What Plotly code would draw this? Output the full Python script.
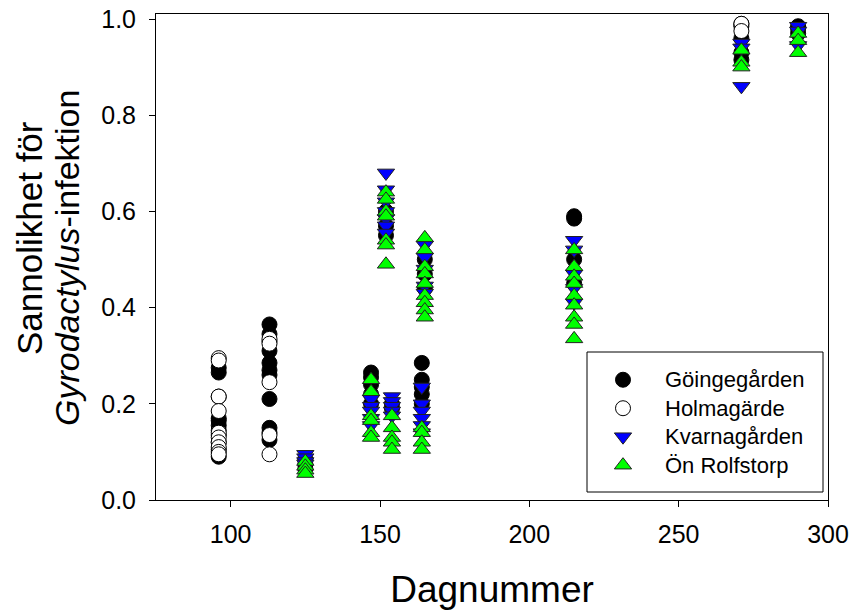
import plotly.graph_objects as go

# Göingegården (black circles)
goinge_day = [96]*11 + [113]*11 + [125]*3 + [147]*5 + [152]*3 + [154]*2 + [165]*3 + [164]*5 + [215]*4 + [271]*5 + [290]*3
goinge_p = [0.275, 0.265, 0.215, 0.17, 0.165, 0.155, 0.145, 0.135, 0.12, 0.105, 0.09,
            0.365, 0.345, 0.33, 0.31, 0.285, 0.27, 0.26, 0.21, 0.15, 0.14, 0.125,
            0.085, 0.075, 0.065,
            0.265, 0.255, 0.24, 0.22, 0.2,
            0.6, 0.57, 0.55,
            0.2, 0.19,
            0.5, 0.47, 0.44,
            0.285, 0.25, 0.235, 0.22, 0.2,
            0.59, 0.585, 0.5, 0.45,
            0.99, 0.985, 0.96, 0.93, 0.915,
            0.985, 0.98, 0.97]

# Holmagärde (white circles)
holma_day = [96]*10 + [113]*5 + [271]*2
holma_p = [0.295, 0.29, 0.215, 0.185, 0.14, 0.13, 0.12, 0.11, 0.1, 0.095,
           0.335, 0.325, 0.245, 0.135, 0.095,
           0.99, 0.975]

# Kvarnagården (blue down-triangles)
kvarna_day = [125]*4 + [147]*5 + [152]*7 + [154]*5 + [165]*5 + [164]*6 + [215]*5 + [271]*3 + [290]*3
kvarna_p = [0.095, 0.088, 0.08, 0.075,
            0.21, 0.195, 0.185, 0.17, 0.155,
            0.68, 0.645, 0.62, 0.6, 0.585, 0.57, 0.555,
            0.215, 0.205, 0.195, 0.185, 0.175,
            0.53, 0.505, 0.48, 0.445, 0.43,
            0.235, 0.2, 0.185, 0.17, 0.155, 0.14,
            0.54, 0.52, 0.47, 0.44, 0.41,
            0.95, 0.94, 0.86,
            0.985, 0.975, 0.945]

# Ön Rolfstorp (green up-triangles)
rolf_day = [125]*4 + [147]*6 + [152]*7 + [154]*5 + [165]*9 + [164]*4 + [215]*9 + [271]*3 + [290]*3
rolf_p = [0.08, 0.07, 0.062, 0.055,
          0.25, 0.225, 0.175, 0.165, 0.14, 0.13,
          0.64, 0.625, 0.6, 0.59, 0.54, 0.53, 0.49,
          0.175, 0.15, 0.13, 0.12, 0.105,
          0.545, 0.52, 0.485, 0.47, 0.45, 0.425, 0.41, 0.395, 0.38,
          0.15, 0.14, 0.12, 0.105,
          0.52, 0.485, 0.465, 0.45, 0.425, 0.405, 0.38, 0.365, 0.335,
          0.935, 0.91, 0.9,
          0.97, 0.955, 0.93]

series_names = ["Göingegården", "Holmagärde", "Kvarnagården", "Ön Rolfstorp"]
x_ticks = [100, 150, 200, 250, 300]
y_ticks = [0.0, 0.2, 0.4, 0.6, 0.8, 1.0]
y_tick_labels = ["0.0", "0.2", "0.4", "0.6", "0.8", "1.0"]
y_title_lines = ["Sannolikhet för", "<i>Gyrodactylus</i>-infektion"]
x_title = "Dagnummer"

FONT = "Arial, Liberation Sans, sans-serif"
W, H = 854, 612
L, R, T, B = 156, 26, 14, 112
PW, PH = W - L - R, H - T - B


def px(xp):
    return (xp - L) / PW


def py(yp):
    return (H - B - yp) / PH


def leg(name):
    return '<span style="font-size:22px">' + name + '</span>'


fig = go.Figure()
fig.add_trace(go.Scatter(x=goinge_day, y=goinge_p, mode="markers", name=leg(series_names[0]),
                         marker=dict(symbol="circle", size=15, color="black",
                                     line=dict(color="black", width=1))))
fig.add_trace(go.Scatter(x=holma_day, y=holma_p, mode="markers", name=leg(series_names[1]),
                         marker=dict(symbol="circle", size=15, color="white",
                                     line=dict(color="black", width=1))))
fig.add_trace(go.Scatter(x=kvarna_day, y=kvarna_p, mode="markers", name=leg(series_names[2]),
                         marker=dict(symbol="triangle-down", size=15, color="#0000ff",
                                     line=dict(color="#222222", width=1))))
fig.add_trace(go.Scatter(x=rolf_day, y=rolf_p, mode="markers", name=leg(series_names[3]),
                         marker=dict(symbol="triangle-up", size=15, color="#00ff00",
                                     line=dict(color="#222222", width=1))))

# legend frame
fig.add_shape(type="rect", xref="paper", yref="paper",
              x0=px(587), x1=px(823), y0=py(492), y1=py(352),
              line=dict(color="black", width=1), fillcolor="white", layer="above")

# y-axis title, two lines
fig.add_annotation(xref="paper", yref="paper", x=px(29), y=py(238),
                   text=y_title_lines[0], textangle=-90, showarrow=False,
                   xanchor="center", yanchor="middle", font=dict(size=35))
fig.add_annotation(xref="paper", yref="paper", x=px(67), y=py(258),
                   text=y_title_lines[1], textangle=-90, showarrow=False,
                   xanchor="center", yanchor="middle", font=dict(size=34))

fig.update_layout(
    width=W, height=H,
    margin=dict(l=L, r=R, t=T, b=B),
    plot_bgcolor="white", paper_bgcolor="white",
    font=dict(family=FONT, color="black", size=25),
    showlegend=True,
    legend=dict(x=px(588), y=py(422.5), xanchor="left", yanchor="middle",
                borderwidth=0, bgcolor="rgba(0,0,0,0)",
                font=dict(size=19.6, family=FONT, color="black"),
                itemwidth=74, indentation=-7, tracegroupgap=0),
    xaxis=dict(range=[75, 300], tickvals=x_ticks, ticks="outside", ticklen=6,
               tickwidth=1, tickcolor="black", showline=True, linecolor="black",
               linewidth=1, mirror=True, showgrid=False, zeroline=False,
               tickfont=dict(size=25), automargin=False, ticklabelstandoff=6,
               title=dict(text=x_title, font=dict(size=37), standoff=29)),
    yaxis=dict(range=[0, 1.0104], tickvals=y_ticks, ticktext=y_tick_labels,
               ticks="outside", ticklen=6, tickwidth=1, tickcolor="black",
               showline=True, linecolor="black", linewidth=1, mirror=True,
               showgrid=False, zeroline=False, tickfont=dict(size=25),
               ticklabelstandoff=8, automargin=False),
)

fig.write_html("out.html", config={"displayModeBar": False},
               post_script="document.body.style.margin='0px';")
